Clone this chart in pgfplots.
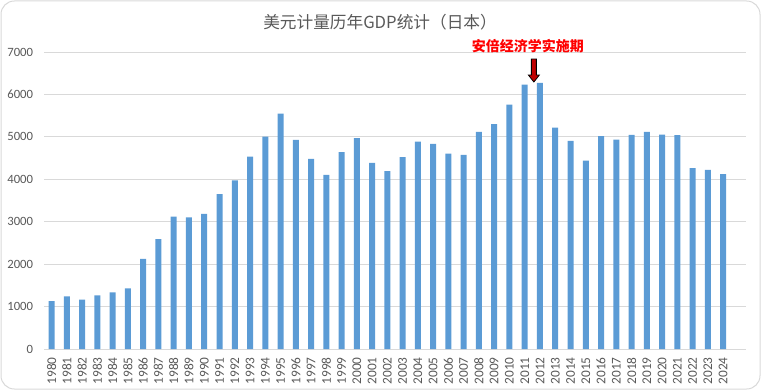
\documentclass[border=0pt]{standalone}
\usepackage{fontspec}
\setmainfont{Carlito}
\newfontfamily\cjk{Noto Sans CJK SC}
\usepackage{pgfplots}
\pgfplotsset{compat=1.18}
\definecolor{barblue}{HTML}{5B9BD5}
\definecolor{gridgray}{HTML}{D9D9D9}
\definecolor{txtgray}{HTML}{595959}
\definecolor{arrowred}{HTML}{C00000}
\begin{document}
\begin{tikzpicture}[x=0.75pt,y=0.75pt]
\path[use as bounding box] (0,0) rectangle (761,390);
\draw[gridgray, line width=0.75pt, rounded corners=10pt] (1,1) rectangle (760,389);
\node[font=\cjk\fontsize{12.5}{14}\selectfont, text=txtgray] at (380,368) {美元计量历年GDP统计（日本）};
\begin{axis}[
  at={(33pt,30.75pt)}, anchor=south west,
  scale only axis, width=526.5pt, height=222.75pt,
  xmin=-0.5, xmax=45.5, ymin=0, ymax=7000,
  ytick={0,1000,...,7000},
  xtick={0,...,44},
  xticklabels={1980,1981,1982,1983,1984,1985,1986,1987,1988,1989,1990,1991,1992,1993,1994,1995,1996,1997,1998,1999,2000,2001,2002,2003,2004,2005,2006,2007,2008,2009,2010,2011,2012,2013,2014,2015,2016,2017,2018,2019,2020,2021,2022,2023,2024},
  xticklabel style={yshift=-6pt, rotate=90, anchor=east, font=\fontsize{10}{11}\selectfont, text=txtgray, inner sep=0pt},
  yticklabel style={font=\fontsize{9.5}{10}\selectfont, text=txtgray, inner sep=0pt, xshift=-8pt},
  /pgf/number format/assume math mode=true,
  /pgf/number format/1000 sep={},
  major tick length=0pt,
  ymajorgrids, grid style={gridgray, line width=0.75pt},
  axis line style={draw=none},
  axis x line*=bottom, axis y line*=left,
  clip=false,
]
\draw[gridgray, line width=0.75pt] (axis cs:-0.5,0) -- (axis cs:45.5,0);
\addplot[ybar, bar width=4.5pt, fill=barblue, draw=none] coordinates {
(0,1130) (1,1243) (2,1163) (3,1266) (4,1337) (5,1431) (6,2123) (7,2587) (8,3120) (9,3104)
(10,3184) (11,3648) (12,3974) (13,4536) (14,5007) (15,5550) (16,4929) (17,4481) (18,4104) (19,4639)
(20,4968) (21,4387) (22,4190) (23,4521) (24,4890) (25,4835) (26,4607) (27,4575) (28,5118) (29,5299)
(30,5762) (31,6234) (32,6274) (33,5220) (34,4906) (35,4441) (36,5016) (37,4937) (38,5047) (39,5118)
(40,5055) (41,5039) (42,4261) (43,4221) (44,4119)
};
\coordinate (tip) at (axis cs:31.6,6293);
\node[font=\cjk\bfseries\fontsize{10.5}{12}\selectfont, text=red] at (axis cs:31.2,7150) {安倍经济学实施期};
\end{axis}
\begin{scope}[shift={(tip)}]
\draw[fill=arrowred, draw=black, line width=0.6pt] (0,0) -- (-5.5,7) -- (-2.5,7) -- (-2.5,23) -- (2.5,23) -- (2.5,7) -- (5.5,7) -- cycle;
\end{scope}
\end{tikzpicture}
\end{document}
